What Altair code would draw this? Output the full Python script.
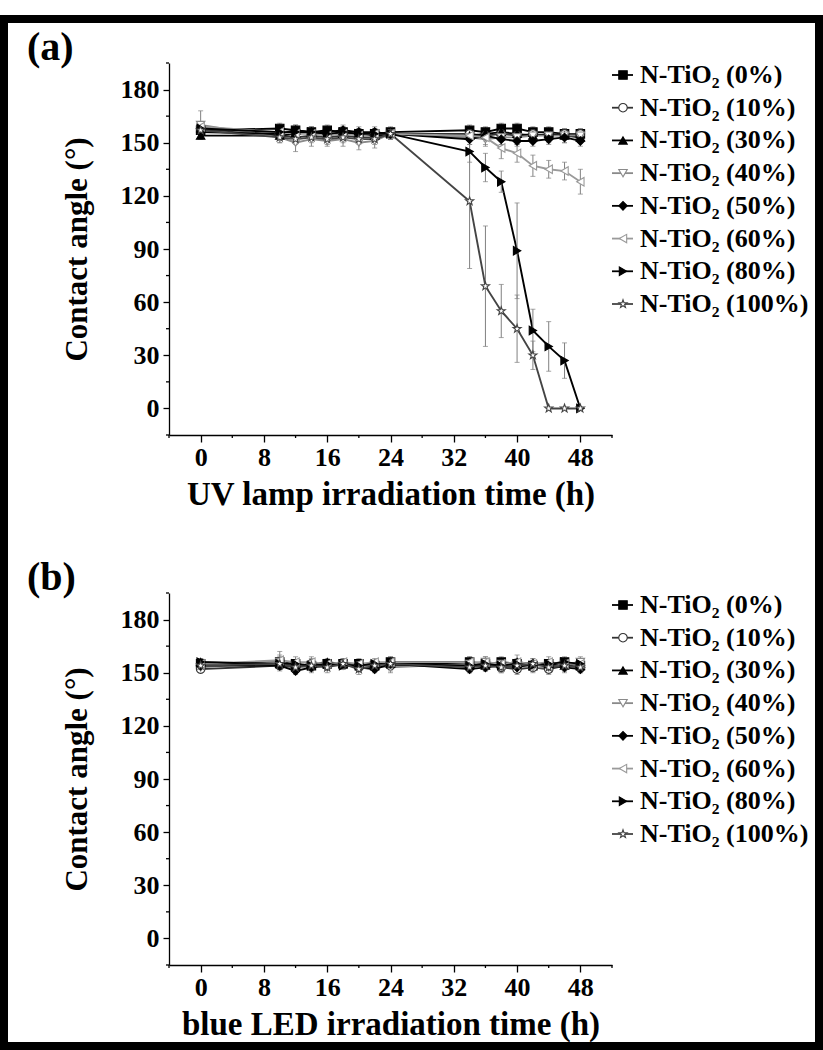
import altair as alt
import pandas as pd

FONT = "Liberation Serif"

times = [0, 10, 12, 14, 16, 18, 20, 22, 24, 34, 36, 38, 40, 42, 44, 46, 48]
series = ["N-TiO₂ (0%)", "N-TiO₂ (10%)", "N-TiO₂ (30%)", "N-TiO₂ (40%)",
          "N-TiO₂ (50%)", "N-TiO₂ (60%)", "N-TiO₂ (80%)", "N-TiO₂ (100%)"]

# Panel (a): UV lamp irradiation
uv_vals = [
    [157, 158, 157, 156, 157, 156, 155, 155, 156, 157, 156, 158, 158, 156, 156, 155, 155],
    [158, 154, 153, 154, 153, 154, 153, 153, 155, 155, 154, 155, 154, 155, 154, 155, 155],
    [154, 154, 155, 156, 155, 155, 155, 154, 155, 154, 155, 156, 155, 154, 155, 154, 153],
    [160, 153, 150, 152, 151, 152, 150, 151, 155, 153, 152, 153, 153, 154, 154, 154, 154],
    [156, 155, 157, 156, 156, 157, 156, 156, 155, 152, 154, 152, 151, 151, 152, 153, 151],
    [159, 156, 155, 155, 154, 155, 154, 155, 155, 154, 153, 147, 144, 137, 135, 134, 128],
    [158, 156, 156, 156, 155, 156, 155, 155, 155, 145, 136, 128, 89, 44, 35, 27, 0],
    [157, 153, 152, 153, 152, 153, 152, 152, 155, 117, 69, 55, 45, 30, 0, 0, 0],
]
uv_errs = [
    [3, 3, 3, 3, 3, 3, 3, 3, 3, 3, 3, 3, 3, 3, 3, 3, 3],
    [2, 2, 2, 2, 2, 2, 2, 2, 2, 2, 2, 2, 2, 2, 2, 2, 2],
    [2, 2, 2, 2, 2, 2, 2, 2, 2, 2, 2, 2, 2, 2, 2, 2, 2],
    [8, 3, 5, 4, 3, 4, 4, 4, 3, 4, 4, 4, 4, 4, 4, 4, 4],
    [3, 3, 3, 3, 3, 3, 3, 3, 3, 3, 3, 3, 3, 3, 3, 3, 3],
    [3, 3, 3, 3, 3, 3, 3, 3, 3, 3, 4, 6, 5, 6, 5, 5, 7],
    [3, 3, 3, 3, 3, 3, 3, 3, 3, 6, 8, 6, 27, 12, 14, 10, 0],
    [3, 3, 3, 3, 3, 3, 3, 3, 3, 38, 34, 15, 19, 8, 0, 0, 0],
]

# Panel (b): blue LED irradiation
led_vals = [
    [155, 156, 155, 154, 155, 155, 155, 154, 156, 156, 155, 156, 155, 154, 155, 156, 154],
    [152, 154, 153, 155, 154, 155, 153, 153, 154, 154, 155, 153, 152, 153, 152, 154, 153],
    [156, 155, 154, 155, 156, 155, 155, 155, 155, 155, 154, 155, 156, 155, 155, 154, 155],
    [153, 156, 154, 153, 154, 154, 154, 154, 153, 155, 156, 155, 154, 153, 153, 155, 156],
    [154, 154, 151, 153, 154, 155, 153, 152, 155, 152, 153, 154, 153, 155, 154, 153, 152],
    [155, 157, 156, 156, 155, 156, 155, 156, 156, 156, 156, 155, 156, 155, 156, 155, 155],
    [156, 155, 155, 154, 155, 154, 154, 155, 155, 154, 155, 154, 155, 154, 155, 156, 155],
    [154, 155, 153, 154, 153, 155, 152, 154, 155, 153, 154, 153, 154, 155, 153, 154, 153],
]
led_errs = [
    [3, 3, 2, 2, 2, 2, 2, 2, 3, 3, 2, 3, 2, 2, 2, 3, 3],
    [2, 3, 2, 3, 2, 2, 2, 2, 3, 2, 3, 3, 3, 2, 2, 3, 2],
    [2, 2, 2, 2, 2, 2, 2, 2, 2, 2, 2, 2, 2, 2, 2, 2, 2],
    [3, 4, 3, 3, 2, 2, 2, 2, 3, 2, 3, 3, 3, 3, 4, 3, 3],
    [2, 2, 2, 2, 2, 2, 2, 2, 2, 2, 2, 2, 2, 2, 2, 2, 2],
    [2, 5, 3, 3, 2, 2, 3, 2, 3, 3, 3, 3, 4, 3, 3, 3, 3],
    [2, 2, 2, 2, 2, 2, 2, 2, 2, 2, 2, 2, 2, 2, 2, 2, 2],
    [3, 3, 3, 3, 3, 3, 3, 3, 3, 3, 3, 3, 3, 3, 3, 4, 3],
]

x_ticks = [0, 8, 16, 24, 32, 40, 48]
x_minor = [-4, 4, 12, 20, 28, 36, 44, 52]
y_ticks = [0, 30, 60, 90, 120, 150, 180]
y_minor = [-15, 15, 45, 75, 105, 135, 165, 195]

STAR = ("M0,-1 L0.235,-0.324 L0.951,-0.309 L0.380,0.124 L0.588,0.809 "
        "L0,0.4 L-0.588,0.809 L-0.380,0.124 L-0.951,-0.309 L-0.235,-0.324 Z")
shapes = ["square", "circle", "triangle-up", "triangle-down", "diamond",
          "triangle-left", "triangle-right", STAR]
fills = ["black", "white", "black", "white", "black", "white", "black", "white"]
strokes = ["black", "#333333", "black", "#8a8a8a", "black", "#9a9a9a", "black", "#444444"]

W, H = 443, 372

shape_scale = alt.Scale(domain=series, range=shapes)
fill_scale = alt.Scale(domain=series, range=fills)
stroke_scale = alt.Scale(domain=series, range=strokes)


def long_df(vals, errs):
    rows = []
    for s, vs, es in zip(series, vals, errs):
        for t, v, e in zip(times, vs, es):
            rows.append({"series": s, "time": t, "angle": v, "err": e})
    return pd.DataFrame(rows)


def y_axis():
    return alt.Axis(values=y_ticks, title="Contact angle (°)", tickSize=6,
                    labelPadding=4, titlePadding=27, titleFontSize=31,
                    labelFontSize=26)


def panel(vals, errs, xtitle, tag, border):
    df = long_df(vals, errs)
    X = alt.X("time:Q", scale=alt.Scale(domain=[-4, 52], nice=False, zero=False),
              axis=alt.Axis(values=x_ticks, title=xtitle, tickSize=7, labelPadding=2,
                            titlePadding=8, titleFontSize=33, labelFontSize=26))
    yscale = alt.Scale(domain=[-15, 195], nice=False, zero=False)
    Y = alt.Y("angle:Q", scale=yscale, axis=y_axis())
    base = alt.Chart(df)
    lines = base.mark_line(strokeWidth=1.9).encode(
        x=X, y=Y, detail="series:N",
        stroke=alt.Stroke("series:N", scale=stroke_scale, legend=None))
    errbars = base.transform_filter("datum.err > 0").transform_calculate(
        lo="datum.angle - datum.err", hi="datum.angle + datum.err"
    ).mark_errorbar(ticks=True, size=5, thickness=1, color="#808080").encode(
        x=X, y=alt.Y("lo:Q", scale=yscale, axis=y_axis()), y2="hi:Q")
    pts = base.mark_point(filled=True, size=72, strokeWidth=1.1, opacity=1).encode(
        x=X, y=Y,
        shape=alt.Shape("series:N", scale=shape_scale, legend=None),
        fill=alt.Fill("series:N", scale=fill_scale, legend=None),
        stroke=alt.Stroke("series:N", scale=stroke_scale, legend=None))
    xm = alt.Chart(pd.DataFrame({"time": x_minor})).mark_rule(color="black", strokeWidth=1.3).encode(
        x=X, y=alt.value(H), y2=alt.value(H + 3))
    ym = alt.Chart(pd.DataFrame({"angle": y_minor})).mark_rule(color="black", strokeWidth=1.3).encode(
        y=Y, x=alt.value(-3), x2=alt.value(0))
    data_layer = alt.layer(lines, errbars, pts, xm, ym)

    leg_df = pd.DataFrame({"series": series})
    LY = alt.Y("series:N", scale=alt.Scale(type="point", domain=series, range=[12, 241], padding=0),
               axis=None)
    leg = alt.Chart(leg_df)
    leg_line = leg.mark_rule(strokeWidth=1.8).encode(
        x=alt.value(443), x2=alt.value(464), y=LY,
        stroke=alt.Stroke("series:N", scale=stroke_scale, legend=None))
    leg_pt = leg.mark_point(filled=True, size=72, strokeWidth=1.1, opacity=1).encode(
        x=alt.value(454), y=LY,
        shape=alt.Shape("series:N", scale=shape_scale, legend=None),
        fill=alt.Fill("series:N", scale=fill_scale, legend=None),
        stroke=alt.Stroke("series:N", scale=stroke_scale, legend=None))
    leg_txt = leg.mark_text(align="left", baseline="middle", font=FONT, fontSize=26,
                            fontWeight="bold", color="black").encode(
        x=alt.value(471), y=LY, text="series:N")
    tag_txt = alt.Chart(pd.DataFrame({"t": [tag]})).mark_text(
        align="left", baseline="middle", font=FONT, fontSize=40, fontWeight="bold",
        color="black").encode(x=alt.value(-142), y=alt.value(-15), text="t:N")
    extra = [leg_line, leg_pt, leg_txt, tag_txt]
    if border:
        frame = alt.Chart(pd.DataFrame({"f": [0]})).mark_rect(
            filled=False, stroke="black", strokeWidth=8, fill=None).encode(
            x=alt.value(-165), x2=alt.value(650), y=alt.value(-44), y2=alt.value(983))
        extra.append(frame)
    legend_layer = alt.layer(*extra)
    return alt.layer(data_layer, legend_layer).resolve_scale(y="independent").properties(
        width=W, height=H)


pa = panel(uv_vals, uv_errs, "UV lamp irradiation time (h)", "(a)", True)
pb = panel(led_vals, led_errs, "blue LED irradiation time (h)", "(b)", False)

chart = alt.vconcat(pa, pb, spacing=158, bounds="flush").properties(
    padding={"left": 0, "top": 15, "right": 0, "bottom": 0},
    background="white",
).configure_view(stroke=None).configure_axis(
    labelFont=FONT, titleFont=FONT, labelFontWeight="bold", titleFontWeight="bold",
    labelColor="black", titleColor="black", domainColor="black", tickColor="black",
    domainWidth=1.3, tickWidth=1.3, grid=False,
)

chart.save("out.html", embed_options={"renderer": "svg", "actions": False})
